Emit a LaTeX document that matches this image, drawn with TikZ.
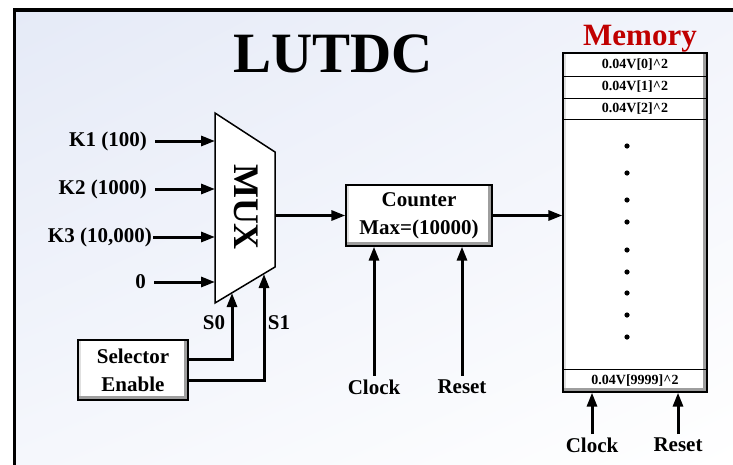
\documentclass[tikz,border=0pt]{standalone}
\usepackage{fontspec}
\setmainfont{Liberation Serif}
\usetikzlibrary{arrows.meta,shadings}
\definecolor{memred}{RGB}{192,0,0}
\definecolor{bgul}{RGB}{229,234,247}
\definecolor{bgur}{RGB}{242,244,251}
\definecolor{bgll}{RGB}{245,247,252}
\begin{document}
\begin{tikzpicture}[x=1pt,y=-1pt,
  arr/.style={line width=3pt,-{Triangle[length=14pt,width=10pt]}},
  lbl/.style={font=\fontsize{21}{26}\selectfont\bfseries, inner sep=0pt},
  txt/.style={font=\fontsize{21}{28}\selectfont\bfseries},
  bevel/.style={draw=black, line width=1.3pt, fill=white,
    path picture={
      \fill[black!12] (path picture bounding box.north west) rectangle ([xshift=3pt]path picture bounding box.south west);
      \fill[black!38] ([xshift=-4pt]path picture bounding box.north east) rectangle (path picture bounding box.south east);
      \fill[black!38] (path picture bounding box.south west) rectangle ([yshift=4pt]path picture bounding box.south east);
    }},
  cell/.style={draw=black, line width=1pt, minimum width=144pt, inner sep=0pt,
    font=\fontsize{14}{16}\selectfont\bfseries}]
\useasboundingbox (0,0) rectangle (733,464);
\begin{scope}
  \clip (0,0) rectangle (733,464);
  \shade[upper left=bgul, upper right=bgur, lower left=bgll, lower right=white] (14.5,10) rectangle (733,464);
  \draw[line width=3.8pt] (14.5,470) -- (14.5,10) -- (740,10);
\end{scope}

% titles
\node[font=\fontsize{57}{57}\selectfont\bfseries, anchor=base, inner sep=0pt] (title) at (333,72) {LUTDC};
\node[font=\fontsize{31}{31}\selectfont\bfseries, text=memred, anchor=base, inner sep=0pt] (memtitle) at (640,45) {Memory};

% MUX
\coordinate (mtl) at (215,113);
\coordinate (mtr) at (275,152);
\coordinate (mbr) at (275,267);
\coordinate (mbl) at (215,303);
\draw[line width=1.5pt, fill=white] (mtl) -- (mtr) -- (mbr) -- (mbl) -- cycle;
\node[rotate=-90, font=\fontsize{36}{36}\selectfont\bfseries] (muxlabel) at (246,207) {MUX};

% inputs
\coordinate (in1) at (215,141);
\coordinate (in2) at (215,189);
\coordinate (in3) at (215,237);
\coordinate (in4) at (215,282);
\node[lbl, anchor=base east] (k1) at (147,146) {K1 (100)};
\node[lbl, anchor=base east] (k2) at (147,194) {K2 (1000)};
\node[lbl, anchor=base east] (k3) at (152,242) {K3 (10,000)};
\node[lbl, anchor=base east] (k0) at (146,288) {0};
\draw[arr, shorten <=8pt] (k1.east |- in1) -- (in1);
\draw[arr, shorten <=8pt] (k2.east |- in2) -- (in2);
\draw[arr, shorten <=1pt] (k3.east |- in3) -- (in3);
\draw[arr, shorten <=8pt] (k0.east |- in4) -- (in4);

% counter
\node[bevel, txt, minimum width=146pt, minimum height=61pt, align=center, inner sep=0pt] (counter) at (419,215.5) {Counter\\Max=(10000)};
\coordinate (mout) at (275,215.5);
\draw[arr] (mout) -- (counter.west);
\node[txt, anchor=base] (clk1) at (374,394) {Clock};
\node[txt, anchor=base] (rst1) at (462,393) {Reset};
\draw[arr] (clk1.north) -- (clk1.north |- counter.south);
\draw[arr] (rst1.north) -- (rst1.north |- counter.south);

% selector
\node[bevel, txt, minimum width=110pt, minimum height=60pt, align=center, inner sep=0pt] (sel) at (133,370) {Selector\\Enable};
\coordinate (s0in) at (232,293);
\coordinate (s1in) at (264,274);
\draw[arr] ([yshift=11pt]sel.east) -| (s0in);
\draw[arr] ([yshift=-10pt]sel.east) -| (s1in);
\node[txt, inner sep=0pt] (s0) at (214,323) {S0};
\node[txt, inner sep=0pt] (s1) at (279,323) {S1};

% memory
\node[bevel, minimum width=144pt, minimum height=339pt, inner sep=0pt] (mem) at (635,222.5) {};
\node[cell, minimum height=23pt] (c0) at (635,64.5) {0.04V[0]\textasciicircum 2};
\node[cell, minimum height=22pt] (c1) at (635,87) {0.04V[1]\textasciicircum 2};
\node[cell, minimum height=21pt] (c2) at (635,108.5) {0.04V[2]\textasciicircum 2};
\node[cell, minimum height=23pt] (c3) at (635,380.5) {0.04V[9999]\textasciicircum 2};
\foreach \yy in {146,173,200,222,250,272,293,315,337}
  \fill (627,\yy) circle (2.6pt);
\draw[arr] (counter.east) -- (counter.east -| mem.west);

\node[txt, anchor=base, inner sep=3pt] (clk2) at (592,452) {Clock};
\node[txt, anchor=base, inner sep=3pt] (rst2) at (678,451) {Reset};
\draw[arr] (clk2.north) -- (clk2.north |- mem.south);
\draw[arr] (rst2.north) -- (rst2.north |- mem.south);
\end{tikzpicture}
\end{document}
